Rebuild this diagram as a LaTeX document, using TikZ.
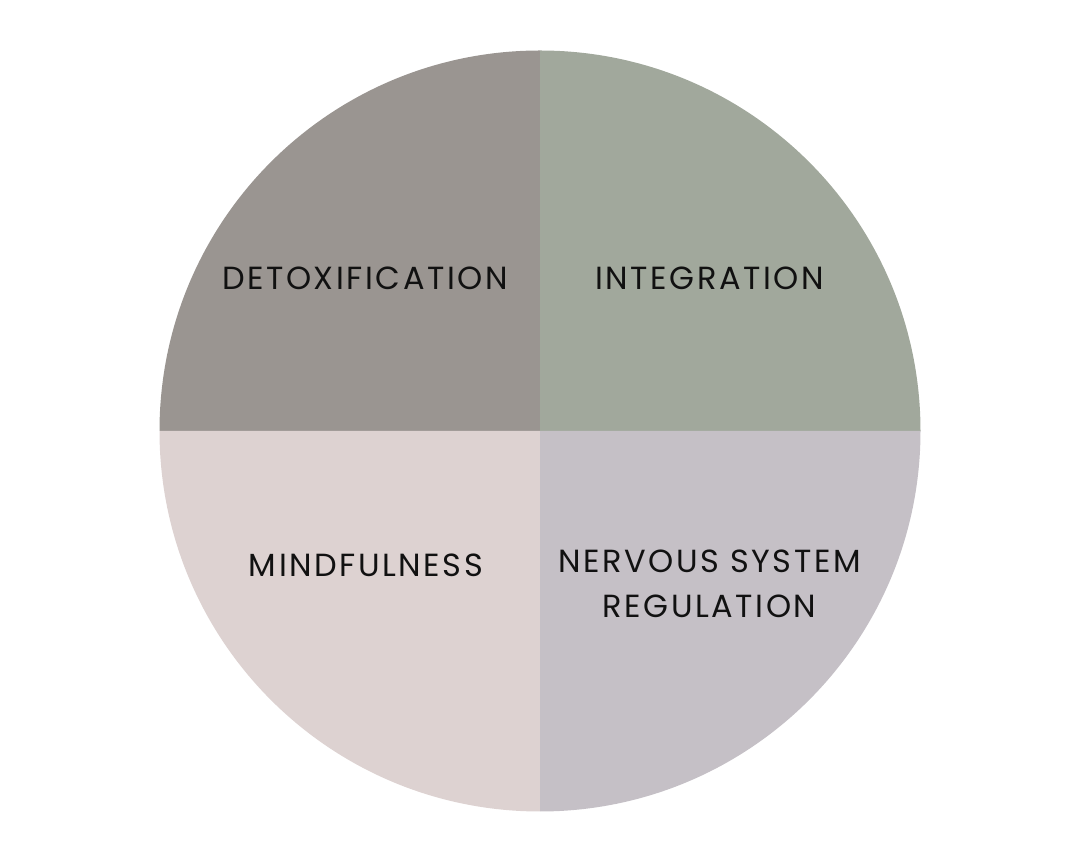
\documentclass[tikz,border=0pt]{standalone}
\usepackage{fontspec}
\setmainfont{Poppins}[LetterSpace=8]
\definecolor{qtl}{HTML}{9A9591}
\definecolor{qtr}{HTML}{A1A89C}
\definecolor{qbl}{HTML}{DDD2D1}
\definecolor{qbr}{HTML}{C5C0C6}
\definecolor{txt}{HTML}{111111}
\begin{document}
\begin{tikzpicture}[x=1pt,y=1pt,
  lbl/.style={text=txt,font=\fontsize{32}{45}\selectfont,align=center,inner sep=0pt}]
\useasboundingbox (0,0) rectangle (1080,859);
\coordinate (c) at (540,428);
\def\R{380.5}
\fill[qtl] (c) -- ++(180:\R) arc[start angle=180,end angle=90,radius=\R] -- cycle;
\fill[qtr] (c) -- ++(90:\R) arc[start angle=90,end angle=0,radius=\R] -- cycle;
\fill[qbl] (c) -- ++(270:\R) arc[start angle=270,end angle=180,radius=\R] -- cycle;
\fill[qbr] (c) -- ++(0:\R) arc[start angle=0,end angle=-90,radius=\R] -- cycle;
\node[lbl] (det) at (365,581) {DETOXIFICATION};
\node[lbl] (int) at (709.5,581) {INTEGRATION};
\node[lbl] (mind) at (366,294) {MINDFULNESS};
\node[lbl] (nsr) at (709.5,275) {NERVOUS SYSTEM\\REGULATION};
\end{tikzpicture}
\end{document}
